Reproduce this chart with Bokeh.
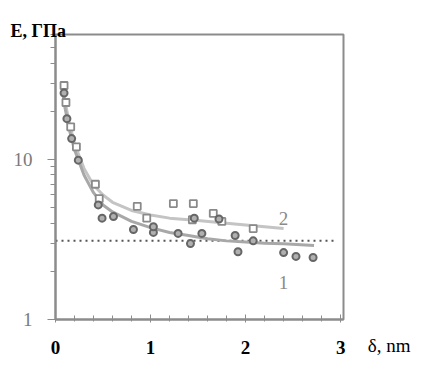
from bokeh.plotting import figure
from bokeh.models import FixedTicker, Label, Title
from bokeh.embed import file_html
from bokeh.resources import INLINE

# --- data ---
# series 1 (circles)
x1 = [0.09, 0.12, 0.17, 0.24, 0.45, 0.49, 0.61, 0.82, 1.03, 1.03, 1.29, 1.42, 1.46, 1.54, 1.72, 1.89, 1.92, 2.08, 2.40, 2.53, 2.71]
E1 = [26.0, 18.0, 13.5, 9.9, 5.2, 4.3, 4.4, 3.65, 3.5, 3.8, 3.45, 2.98, 4.3, 3.45, 4.25, 3.35, 2.65, 3.1, 2.62, 2.48, 2.44]
# series 2 (squares)
x2 = [0.09, 0.11, 0.16, 0.22, 0.42, 0.46, 0.86, 0.96, 1.24, 1.45, 1.44, 1.66, 1.75, 2.08]
E2 = [29.0, 22.7, 16.0, 12.0, 7.0, 5.7, 5.1, 4.3, 5.3, 5.3, 4.2, 4.6, 4.1, 3.7]
# fitted curves
cx1 = [0.08, 0.10, 0.15, 0.20, 0.30, 0.40, 0.50, 0.60, 0.80, 1.00, 1.20, 1.40, 1.60, 1.80, 2.00, 2.20, 2.40, 2.72]
cE1 = [26.0, 21.0, 15.0, 11.5, 8.0, 6.2, 5.2, 4.7, 4.1, 3.75, 3.5, 3.35, 3.2, 3.1, 3.05, 3.0, 2.97, 2.9]
cx2 = [0.08, 0.10, 0.15, 0.20, 0.30, 0.40, 0.50, 0.60, 0.80, 1.00, 1.20, 1.50, 1.80, 2.00, 2.20, 2.40]
cE2 = [28.0, 23.0, 16.5, 12.5, 8.8, 6.9, 6.0, 5.4, 4.8, 4.5, 4.3, 4.15, 4.0, 3.9, 3.8, 3.7]
E_ref = 3.1
x_ticks = [0, 1, 2, 3]
x_minor = [0.2, 0.4, 0.6, 0.8, 1.2, 1.4, 1.6, 1.8, 2.2, 2.4, 2.6, 2.8]
y_ticks = [1, 10]
y_minor = [2, 3, 4, 5, 6, 7, 8, 9, 20, 30, 40, 50, 60]

SERIF = "Liberation Serif"
AX = "#8c8c8c"

p = figure(width=424, height=365, x_range=(0, 3.03), y_range=(1, 60.4),
           y_axis_type="log", output_backend="svg", toolbar_location=None,
           min_border_left=55, min_border_right=81, min_border_top=34, min_border_bottom=46)
p.grid.visible = False
p.outline_line_color = AX
p.outline_line_width = 2
p.background_fill_color = "white"
p.border_fill_color = "white"

# y-axis title at top-left
p.add_layout(Title(text="E, ГПа", align="left", offset=-45, standoff=-12,
                   text_font=SERIF, text_font_style="bold", text_font_size="18px",
                   text_color="black"), "above")

# reference dotted line
p.line([0, 2.95], [E_ref, E_ref], line_color="#555555", line_width=2, line_dash="2 4")

# curves
p.line(cx2, cE2, line_color="#c4c4c4", line_width=3)
p.line(cx1, cE1, line_color="#a8a8a8", line_width=3)

# markers
p.scatter(x2, E2, marker="square", size=7, fill_color="white", line_color="#8a8a8a", line_width=1.8)
p.scatter(x1, E1, marker="circle", size=7, fill_color="#b0b0b0", line_color="#666666", line_width=2)

# axes
xa = p.xaxis[0]
xa.ticker = FixedTicker(ticks=x_ticks, minor_ticks=x_minor)
xa.axis_line_color = AX
xa.axis_line_width = 2
xa.major_tick_line_color = AX
xa.minor_tick_line_color = AX
xa.major_tick_in = 5
xa.major_tick_out = 3
xa.minor_tick_in = 4
xa.minor_tick_out = 2
xa.major_label_standoff = 18
xa.major_label_text_font = SERIF
xa.major_label_text_font_style = "bold"
xa.major_label_text_font_size = "19px"
xa.major_label_text_color = "black"

ya = p.yaxis[0]
ya.ticker = FixedTicker(ticks=y_ticks, minor_ticks=y_minor)
ya.major_label_overrides = {1: "1", 10: "10"}
ya.axis_line_color = AX
ya.axis_line_width = 2
ya.major_tick_line_color = AX
ya.minor_tick_line_color = AX
ya.major_tick_in = 0
ya.major_tick_out = 8
ya.minor_tick_in = 0
ya.minor_tick_out = 5
ya.major_label_standoff = 15
ya.major_label_text_font = SERIF
ya.major_label_text_font_size = "19px"
ya.major_label_text_color = "#7a7a7a"

# x-axis title, on the tick-label line to the right of "3"
p.add_layout(Title(text="δ, nm", align="right", offset=-67, standoff=-44,
                   vertical_align="top", text_font=SERIF, text_font_style="normal",
                   text_font_size="19px", text_color="black"), "below")

# curve labels
p.add_layout(Label(x=2.4, y=4.3, text="2", text_font=SERIF, text_font_size="19px",
                   text_align="center", text_baseline="middle", text_color="#8a8a8a"))
p.add_layout(Label(x=2.4, y=1.70, text="1", text_font=SERIF, text_font_size="19px",
                   text_align="center", text_baseline="middle", text_color="#8a8a8a"))

open("out.html", "w").write(file_html(p, INLINE))
